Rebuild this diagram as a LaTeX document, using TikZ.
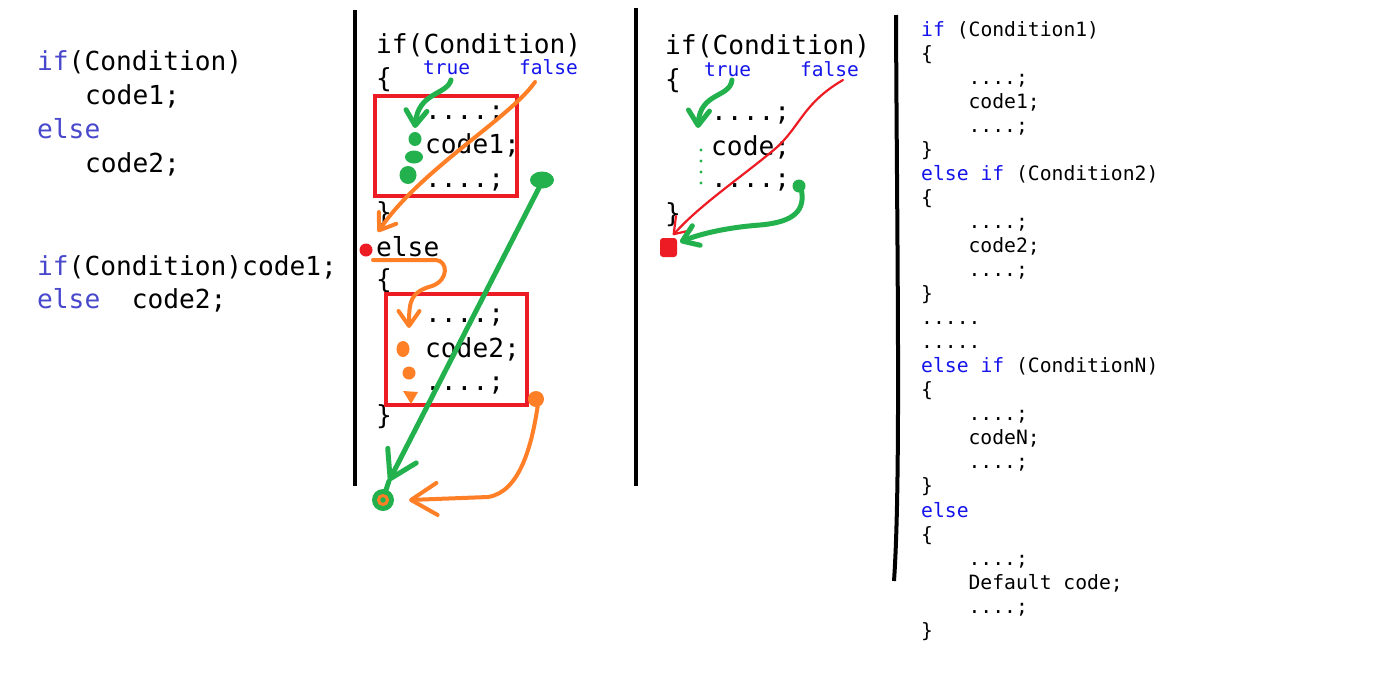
\documentclass[tikz,border=0pt]{standalone}
\usepackage{fontspec}
\newfontfamily\codefont{DejaVu Sans Mono}
\usetikzlibrary{arrows.meta}

\definecolor{paintgreen}{RGB}{34,177,76}
\definecolor{paintorange}{RGB}{255,127,39}
\definecolor{paintred}{RGB}{237,28,36}
\definecolor{kwblue}{RGB}{72,72,204}
\definecolor{vsblue}{RGB}{20,20,235}
\newcommand{\kwd}[1]{\textcolor{kwblue}{#1}}
\newcommand{\vkw}[1]{\textcolor{vsblue}{#1}}
\newcommand{\skipline}{....;}
\newcommand{\moreline}{.....}

\begin{document}
\begin{tikzpicture}[x=1pt, y=-1pt,
    code/.style={anchor=base west, inner sep=0pt, font=\codefont\fontsize{26.2}{30}\selectfont},
    smallcode/.style={code, font=\codefont\fontsize{19.7}{24}\selectfont},
    branch/.style={code, font=\codefont\fontsize{19.5}{22}\selectfont, text=vsblue},
    divider/.style={draw=black, line width=4pt},
    block/.style={draw=paintred, line width=4pt},
    greenbrush/.style={draw=paintgreen, line width=5pt, line cap=round, line join=round},
    orangebrush/.style={draw=paintorange, line width=4pt, line cap=round, line join=round},
    redpen/.style={draw=paintred, line width=2.2pt, line cap=round, line join=round},
    smallbarb/.style={-{Straight Barb[length=15pt, width=21pt, round]}},
    bigbarb/.style={-{Straight Barb[length=26pt, width=32pt, round]}},
]
\fill[white] (0,0) rectangle (1374,694);
\useasboundingbox (0,0) rectangle (1374,694);

% Short forms
\node[code] (lif) at (37,70) {\kwd{if}(Condition)};
\node[code] (lcode1) at (85,104) {code1;};
\node[code] (lelse) at (37,138) {\kwd{else}};
\node[code] (lcode2) at (85,172) {code2;};
\node[code] (lshortif) at (37,275) {\kwd{if}(Condition)code1;};
\node[code] (lshortelse) at (37,308) {\kwd{else}\ \ code2;};

% Dividers
\draw[divider] (355,10) -- (355,486);
\draw[divider] (636,8) -- (636,486);
\draw[divider] (896,15) .. controls (897,250) and (901,480) .. (894,581);

% if ... else with blocks
\node[code] (bif) at (376,53) {if(Condition)};
\node[code] (bopen1) at (376,87) {\{};
\node[branch] (btrue) at (423,74) {true};
\node[branch] (bfalse) at (519,74) {false};
\node[code] (bdots1) at (425,119) {\skipline};
\node[code] (bcode1) at (425,153) {code1;};
\node[code] (bdots2) at (425,187) {\skipline};
\node[code] (bclose1) at (376,221) {\}};
\node[code] (belse) at (376,256) {else};
\node[code] (bopen2) at (376,288) {\{};
\node[code] (bdots3) at (425,322) {\skipline};
\node[code] (bcode2) at (425,357) {code2;};
\node[code] (bdots4) at (425,390) {\skipline};
\node[code] (bclose2) at (376,424) {\}};

\draw[block] (375,96) rectangle (517,196);
\draw[block] (386,294) rectangle (527,405);

% true path
\coordinate (bt0) at (451,80);
\coordinate (bt1) at (415,128);
\draw[greenbrush, smallbarb] (bt0) .. controls (447,95) and (418,92) .. (bt1);
\fill[paintgreen] (415,139) ellipse (6.5 and 7);
\fill[paintgreen] (414,157) ellipse (9 and 6.5);
\fill[paintgreen] (408,175) ellipse (8.5 and 9);

% false path
\coordinate (bf0) at (535,82);
\coordinate (bf1) at (378,232);
\draw[orangebrush, smallbarb] (bf0) .. controls (510,118) and (420,170) .. (bf1);
\fill[paintred] (366,250) circle (6.5);

\coordinate (be0) at (373,260);
\coordinate (be1) at (409,328);
\draw[orangebrush, smallbarb] (be0) -- (436,260) .. controls (448,261) and (449,280) .. (432,286)
    .. controls (411,292) and (409,300) .. (be1);
\fill[paintorange] (403,349) ellipse (6.5 and 8);
\fill[paintorange] (409,373) circle (6.5);
\fill[paintorange] (403,391) -- (418,392) -- (411,404) -- cycle;

% joining at the end
\fill[paintgreen] (542,180) ellipse (12 and 8.5);
\coordinate (bj0) at (542,182);
\coordinate (bj1) at (389,481);
\draw[greenbrush, bigbarb] (bj0) -- (bj1);
\draw[greenbrush] (bj1) -- (384,496);

\fill[paintorange] (536,399) ellipse (8 and 8);
\coordinate (bo0) at (538,404);
\coordinate (bo1) at (409,500);
\draw[orangebrush, bigbarb] (bo0) .. controls (532,445) and (520,492) .. (488,497) -- (bo1);

\fill[paintgreen] (383,500) circle (11);
\draw[paintorange, line width=3pt] (383,500) circle (4.5);

% if without else
\node[code] (cif) at (665,54) {if(Condition)};
\node[code] (copen) at (665,88) {\{};
\node[branch] (ctrue) at (704,76) {true};
\node[branch] (cfalse) at (800,76) {false};
\node[code] (cdots1) at (711,120) {\skipline};
\node[code] (ccode) at (711,155) {code;};
\node[code] (cdots2) at (711,187) {\skipline};
\node[code] (cclose) at (665,222) {\}};

\coordinate (ct0) at (732,80);
\coordinate (ct1) at (698,128);
\draw[greenbrush, smallbarb] (ct0) .. controls (730,98) and (700,92) .. (ct1);
\foreach \y in {150,161,172,183}
  \fill[paintgreen] (701,\y) circle (1.6);

\coordinate (cf0) at (843,80);
\coordinate (cf1) at (673,235);
\draw[redpen, smallbarb] (cf0) .. controls (800,105) and (800,130) .. (770,153)
    .. controls (740,178) and (700,205) .. (cf1);

\fill[paintgreen] (799,186) circle (6.5);
\coordinate (cr0) at (801,188);
\coordinate (cr1) at (680,242);
\draw[greenbrush, smallbarb] (cr0) .. controls (806,210) and (795,222) .. (760,225)
    .. controls (720,228) and (695,236) .. (cr1);
\fill[paintred, rounded corners=3pt] (660,238) rectangle (677,257);

% else if ladder
\foreach \i/\ind/\txt in {0/0/{\vkw{if} (Condition1)}, 1/0/\{, 2/1/\skipline, 3/1/code1;, 4/1/\skipline, 5/0/\},
    6/0/{\vkw{else if} (Condition2)}, 7/0/\{, 8/1/\skipline, 9/1/code2;, 10/1/\skipline, 11/0/\},
    12/0/\moreline, 13/0/\moreline, 14/0/{\vkw{else if} (ConditionN)}, 15/0/\{, 16/1/\skipline, 17/1/codeN;,
    18/1/\skipline, 19/0/\}, 20/0/\vkw{else}, 21/0/\{, 22/1/\skipline, 23/1/Default code;, 24/1/\skipline, 25/0/\}}
  \node[smallcode] (d\i) at (921+47.4*\ind, 36+24.05*\i) {\txt};

\end{tikzpicture}
\end{document}
